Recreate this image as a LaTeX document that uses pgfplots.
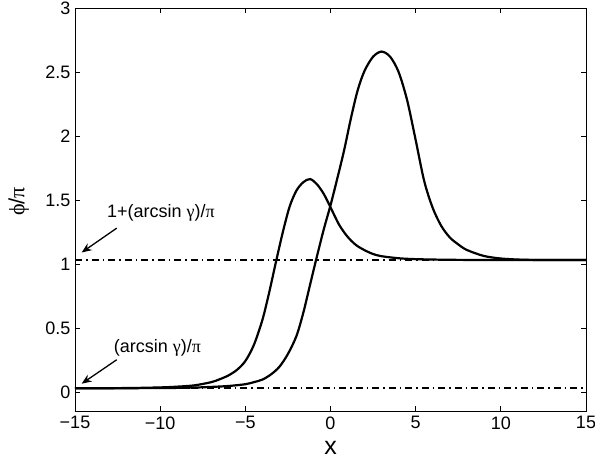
\documentclass[border=0pt]{standalone}
\usepackage{fontspec}
\setmainfont{Liberation Sans}
\newfontfamily\grk{Liberation Serif}
\usepackage{pgfplots}
\pgfplotsset{compat=1.18}
\usetikzlibrary{arrows.meta}

% phase profiles of the two kinks
\pgfplotstableread{
x y
-15 0.032
-12 0.034
-10 0.039
-9 0.045
-8 0.055
-7 0.080
-6.5 0.103
-6 0.132
-5.5 0.175
-5 0.245
-4.5 0.370
-4 0.565
-3.6 0.780
-3.2 1.020
-2.8 1.250
-2.4 1.450
-2 1.575
-1.6 1.640
-1.2 1.665
-0.8 1.625
-0.4 1.550
0 1.445
0.5 1.310
1 1.215
1.5 1.150
2 1.110
2.5 1.080
3 1.063
4 1.047
5 1.040
7 1.035
10 1.033
15 1.033
}\kinkA
\pgfplotstableread{
x y
-15 0.032
-10 0.034
-8 0.038
-7 0.043
-6 0.050
-5 0.064
-4.5 0.080
-4 0.100
-3.5 0.140
-3 0.200
-2.5 0.300
-2 0.440
-1.6 0.620
-1.2 0.840
-0.8 1.060
-0.4 1.270
0 1.460
0.4 1.670
0.8 1.890
1.2 2.140
1.6 2.360
2 2.510
2.5 2.620
3 2.660
3.5 2.620
4 2.500
4.5 2.280
5 1.970
5.5 1.650
6 1.440
6.5 1.300
7 1.210
7.5 1.155
8 1.112
9 1.065
10 1.045
11 1.037
12 1.034
15 1.033
}\kinkB

\begin{document}
\begin{tikzpicture}
\path[use as bounding box] (0,0) rectangle (595bp,463bp);
\begin{axis}[
  at={(75bp,52bp)}, anchor=south west,
  scale only axis, width=511bp, height=403bp,
  xmin=-15, xmax=15, ymin=-0.145, ymax=3,
  xtick={-15,-10,-5,0,5,10,15},
  xticklabels={−15,−10,−5,0,5,10,15},
  ytick={0,0.5,1,1.5,2,2.5,3},
  yticklabels={0,0.5,1,1.5,2,2.5,3},
  tick align=inside, major tick length=5bp,
  axis line style={line width=0.8bp},
  every tick/.style={black, line width=0.8bp},
  tick label style={font=\fontsize{18bp}{21bp}\selectfont},
  xticklabel style={yshift=-2bp},
  yticklabel style={xshift=-1bp},
  xlabel={x},
  xlabel style={font=\fontsize{25bp}{28bp}\selectfont, at={(axis description cs:0.5,-0.092)}, anchor=center},
  ylabel={{\grk ϕ}/{\grk π}},
  ylabel style={font=\fontsize{22bp}{25bp}\selectfont, at={(axis description cs:-0.110,0.52)}, anchor=center, rotate=0},
  clip=false,
]
% asymptotic levels
\addplot[black, line width=1.9bp, dash pattern=on 7bp off 4bp on 1.5bp off 4bp]
  coordinates {(-15,0.0319) (15,0.0319)};
\addplot[black, line width=1.9bp, dash pattern=on 7bp off 4bp on 1.5bp off 4bp]
  coordinates {(-15,1.0319) (15,1.0319)};
% kink profiles
\addplot[black, line width=2.2bp, smooth] table[x=x,y=y] {\kinkA};
\addplot[black, line width=2.2bp, smooth] table[x=x,y=y] {\kinkB};
% labels for the levels
\draw[line width=1.3bp, -{Stealth[length=10bp,width=8bp]}] (axis cs:-12.55,1.282) -- (axis cs:-14.61,1.092);
\draw[line width=1.3bp, -{Stealth[length=10bp,width=8bp]}] (axis cs:-12.55,0.255) -- (axis cs:-14.61,0.068);
\node[font=\fontsize{18bp}{21bp}\selectfont] at (axis cs:-9.96,1.40) {1+(arcsin {\grk γ})/{\grk π}};
\node[font=\fontsize{18bp}{21bp}\selectfont] at (axis cs:-10.16,0.346) {(arcsin {\grk γ})/{\grk π}};
\end{axis}
\end{tikzpicture}
\end{document}
